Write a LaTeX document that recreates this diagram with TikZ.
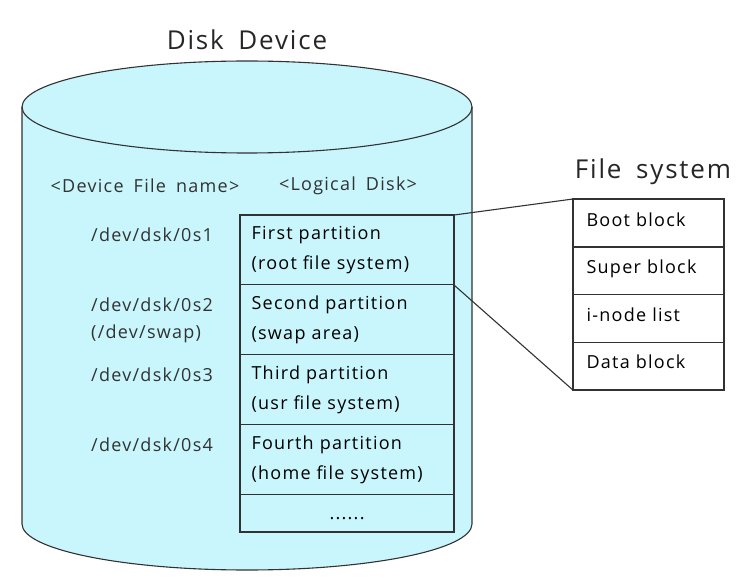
\documentclass[tikz,border=0pt]{standalone}
\usepackage{fontspec}
\setmainfont{Open Sans}[LetterSpace=7, WordSpace=1.7]
\usetikzlibrary{calc}
\definecolor{diskcolor}{RGB}{200,246,252}
\definecolor{linecolor}{RGB}{50,50,50}
\newcommand{\thickness}{2.6pt}
\newcommand{\thinline}{1.1pt}

\begin{document}
\begin{tikzpicture}[x=1pt,y=1pt,
  label/.style={font=\fontsize{18}{30}\selectfont, text=linecolor, inner sep=0pt},
  title/.style={font=\fontsize{26}{30}\selectfont, text=black!85, inner sep=0pt},
  part/.style={draw=linecolor, line width=\thinline, anchor=north west, minimum width=213pt, inner xsep=11pt, inner ysep=0pt, text width=191pt, align=left, font=\fontsize{18}{30}\selectfont},
  block/.style={draw=linecolor, line width=\thinline, fill=white, anchor=north west, minimum width=150pt, minimum height=47.5pt, inner xsep=13pt, inner ysep=0pt, text width=124pt, text height=14pt, text depth=8pt, align=left, font=\fontsize{18}{30}\selectfont}]
\useasboundingbox (0,0) rectangle (739,582);
% disk
\fill[diskcolor] (22,475) -- (22,58) arc (180:360:225 and 46) -- (472,475) arc (0:180:225 and 46) -- cycle;
\draw[linecolor, line width=\thinline] (22,475) -- (22,58) arc (180:360:225 and 46) -- (472,475);
\draw[linecolor, line width=\thinline] (247,475) ellipse (225 and 46);
\node[title] (disk) at (247,542) {Disk Device};
\node[label] (devhead) at (145,396) {<Device File name>};
\node[label] (loghead) at (348,396) {<Logical Disk>};
% partitions
\node[part, minimum height=69pt] (part1) at (240,367) {First partition\\(root file system)};
\node[part, minimum height=70pt] (part2) at (240,298) {Second partition\\(swap area)};
\node[part, minimum height=70pt] (part3) at (240,228) {Third partition\\(usr file system)};
\node[part, minimum height=70pt] (part4) at (240,158) {Fourth partition\\(home file system)};
\node[part, minimum height=37pt, align=center, text height=12pt, text depth=0pt] (partdots) at (240,88) {......};
\draw[linecolor, line width=\thickness] (part1.north west) rectangle (partdots.south east);
% device files
\node[label, anchor=west] (dev1) at (91,347) {/dev/dsk/0s1};
\node[label, anchor=west] (dev2) at (91,277) {/dev/dsk/0s2};
\node[label, anchor=west] (swap) at (91,248) {(/dev/swap)};
\node[label, anchor=west] (dev3) at (91,207) {/dev/dsk/0s3};
\node[label, anchor=west] (dev4) at (91,137) {/dev/dsk/0s4};
% file system
\node[title] (fs) at (653,410) {File system};
\node[block] (boot) at (573,383) {Boot block};
\node[block] (super) at (573,335.5) {Super block};
\node[block] (inode) at (573,288) {i-node list};
\node[block] (data) at (573,240.5) {Data block};
\draw[linecolor, line width=\thickness] (boot.north west) rectangle (data.south east);
\draw[linecolor, line width=\thinline] (part1.north east) -- (boot.north west);
\draw[linecolor, line width=\thinline] (part1.south east) -- (data.south west);
\end{tikzpicture}
\end{document}
